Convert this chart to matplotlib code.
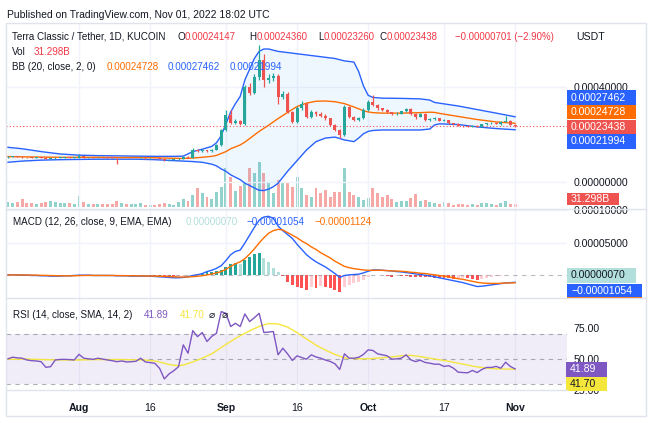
import numpy as np
import pandas as pd
import matplotlib
matplotlib.use("Agg")
import matplotlib.pyplot as plt
import matplotlib.dates as mdates
from matplotlib.patches import Rectangle
from matplotlib.ticker import FuncFormatter

plt.rcParams['font.family'] = ['Liberation Sans', 'DejaVu Sans']

# daily candles Jul 17 .. Nov 1 2022, prices in units of 1e-5 USDT
dates = pd.date_range('2022-07-17', '2022-11-01', freq='D')

opens = [10.5, 10.6, 10.8, 10.6, 10.5, 10.4, 10.3, 10.4, 10.3, 9.8,
         9.9, 10.3, 10.3, 10.4, 10.3, 10.3, 10.8, 10.5, 10.5, 10.4,
         10.5, 10.4, 10.3, 10.2, 10.1, 10.2, 10.1, 10.1, 10.1, 10.3,
         10.0, 10.0, 9.9, 9.7, 9.1, 9.3, 9.5, 9.7, 10.6, 10.3,
         13.6, 12.9, 13.4, 12.9, 13.5, 15.6, 21.9, 28.2, 25.0, 25.6,
         24.6, 40.1, 37.5, 44.3, 51.4, 43.0, 43.8, 44.5, 36.0, 37.0,
         29.6, 25.4, 31.2, 33.0, 27.5, 29.5, 28.5, 28.0, 26.8, 24.0,
         21.9, 19.8, 31.7, 27.5, 26.1, 26.8, 30.3, 33.8, 32.4, 31.0,
         30.3, 29.3, 28.6, 28.8, 29.7, 30.7, 28.6, 27.5, 28.6, 26.1,
         26.5, 26.8, 25.8, 26.1, 24.7, 24.6, 23.6, 23.5, 23.2, 23.6,
         23.2, 24.3, 24.8, 25.0, 24.5, 25.4, 25.8, 24.147]
highs = [10.8, 11.0, 10.9, 10.8, 10.6, 10.5, 10.6, 10.5, 10.4, 10.1,
         10.4, 10.5, 10.6, 10.5, 10.4, 11.8, 10.9, 10.7, 10.6, 10.6,
         10.6, 10.5, 10.4, 10.3, 10.3, 10.3, 10.2, 10.3, 10.5, 10.4,
         10.2, 10.1, 10.0, 9.8, 9.5, 9.7, 9.9, 10.9, 10.8, 14.5,
         14.0, 13.8, 13.6, 13.8, 16.0, 22.5, 30.3, 30.3, 26.5, 26.0,
         41.0, 41.5, 45.5, 57.7, 54.0, 45.5, 46.0, 45.5, 38.5, 38.0,
         30.0, 32.0, 34.0, 33.5, 30.5, 30.0, 29.5, 28.5, 27.0, 24.5,
         22.5, 32.5, 32.0, 28.0, 27.5, 31.0, 34.5, 36.6, 32.8, 31.3,
         30.6, 29.6, 29.3, 30.0, 31.0, 31.2, 28.9, 29.2, 28.9, 27.0,
         27.2, 27.0, 26.4, 26.3, 25.0, 25.0, 24.0, 23.8, 23.9, 23.8,
         24.5, 25.0, 25.3, 25.2, 25.6, 27.8, 25.9, 24.36]
lows = [10.3, 10.5, 10.4, 10.3, 10.2, 10.1, 10.2, 10.1, 9.6, 9.6,
        9.8, 10.1, 10.2, 10.1, 10.1, 10.2, 10.3, 10.3, 10.2, 10.3,
        10.2, 10.1, 10.0, 7.6, 9.9, 9.9, 9.9, 9.9, 10.0, 9.8,
        9.8, 9.7, 9.5, 8.9, 9.0, 9.2, 9.4, 9.6, 10.1, 10.2,
        12.6, 12.6, 12.6, 12.7, 13.3, 15.3, 21.5, 24.5, 24.5, 24.0,
        24.2, 36.5, 37.0, 43.0, 40.0, 41.5, 42.5, 33.0, 35.0, 29.0,
        24.7, 25.0, 30.5, 27.0, 27.0, 28.0, 27.5, 26.3, 23.5, 21.5,
        18.4, 19.5, 27.0, 25.8, 25.8, 26.5, 30.0, 32.0, 30.5, 29.8,
        29.0, 28.3, 28.4, 28.5, 29.4, 28.3, 26.5, 27.2, 25.8, 25.8,
        26.2, 25.5, 25.6, 24.4, 24.2, 23.4, 23.3, 23.0, 23.0, 23.0,
        23.1, 24.1, 24.6, 24.3, 24.2, 25.2, 24.0, 23.26]
closes = [10.6, 10.8, 10.6, 10.5, 10.4, 10.3, 10.4, 10.3, 9.8, 9.9,
          10.3, 10.3, 10.4, 10.3, 10.3, 10.8, 10.5, 10.5, 10.4, 10.5,
          10.4, 10.3, 10.2, 10.1, 10.2, 10.1, 10.1, 10.1, 10.3, 10.0,
          10.0, 9.9, 9.7, 9.1, 9.3, 9.5, 9.7, 10.6, 10.3, 13.6,
          12.9, 13.4, 12.9, 13.5, 15.6, 21.9, 28.2, 25.0, 25.6, 24.6,
          40.1, 37.5, 44.3, 51.4, 43.0, 43.8, 44.5, 36.0, 37.0, 29.6,
          25.4, 31.2, 33.0, 27.5, 29.5, 28.5, 28.0, 26.8, 24.0, 21.9,
          19.8, 31.7, 27.5, 26.1, 26.8, 30.3, 33.8, 32.4, 31.0, 30.3,
          29.3, 28.6, 28.8, 29.7, 30.7, 28.6, 27.5, 28.6, 26.1, 26.5,
          26.8, 25.8, 26.1, 24.7, 24.6, 23.6, 23.5, 23.2, 23.6, 23.2,
          24.3, 24.8, 25.0, 24.5, 25.4, 25.8, 24.147, 23.438]
volume_b = [55, 47, 57, 80, 47, 40, 33, 40, 57, 67,
            57, 40, 40, 40, 35, 113, 57, 33, 33, 30,
            30, 30, 30, 67, 47, 30, 30, 30, 47, 28,
            27, 27, 30, 45, 30, 28, 57, 80, 60, 123,
            190, 140, 107, 80, 157, 200, 390, 307, 160, 210,
            240, 397, 340, 457, 340, 240, 140, 273, 240, 257,
            207, 307, 190, 123, 107, 190, 140, 173, 107, 157,
            157, 390, 157, 123, 107, 73, 90, 190, 140, 107,
            120, 83, 50, 67, 60, 90, 133, 67, 73, 50,
            40, 33, 50, 40, 27, 33, 33, 27, 33, 27,
            40, 40, 33, 27, 40, 67, 33, 31.298]

# Bollinger bands (20, 2) read at these days after Jul 16
bb_day = [1, 4, 8, 12, 16, 20, 24, 28, 32, 36,
          38, 40, 42, 44, 45, 46, 47, 48, 49, 50,
          51, 52, 53, 54, 55, 56, 57, 58, 60, 62,
          64, 66, 68, 70, 72, 74, 75, 76, 77, 78,
          80, 84, 88, 90, 91, 92, 96, 100, 104, 108]
bb_upper = [14.6, 14.0, 12.8, 11.8, 11.3, 11.1, 11.0, 10.9, 10.8, 10.8,
            10.9, 12.8, 13.8, 15.0, 16.5, 19.5, 24.5, 29.5, 33.0, 36.0,
            43.0, 47.5, 52.0, 55.0, 56.0, 56.0, 55.5, 55.0, 54.5, 54.0,
            53.5, 53.0, 52.5, 52.0, 51.0, 50.5, 46.5, 40.5, 36.5, 35.6,
            35.3, 35.2, 35.0, 34.5, 33.5, 33.2, 32.0, 30.5, 29.0, 27.462]
bb_mid = [10.7, 10.6, 10.5, 10.4, 10.4, 10.4, 10.3, 10.3, 10.2, 10.0,
          9.9, 10.1, 10.4, 10.8, 11.2, 12.0, 12.8, 14.0, 14.8, 15.6,
          16.8, 18.3, 19.8, 21.3, 22.6, 23.9, 25.3, 26.7, 29.3, 31.8,
          33.2, 34.0, 34.1, 33.8, 33.0, 31.6, 30.8, 30.0, 29.5, 29.2,
          29.0, 29.0, 29.2, 29.4, 29.3, 28.9, 27.6, 26.3, 25.3, 24.728]
bb_lower = [8.3, 8.8, 9.2, 9.4, 9.5, 9.6, 9.6, 9.6, 9.4, 9.0,
            8.8, 8.6, 8.3, 7.5, 6.8, 5.5, 4.5, 3.0, 2.0, 1.0,
            -0.5, -1.5, -2.5, -3.5, -3.6, -3.0, -2.0, -0.5, 4.5, 9.0,
            13.5, 17.0, 18.5, 18.9, 17.7, 17.0, 18.5, 20.3, 21.3, 21.7,
            21.9, 21.9, 21.9, 22.3, 24.0, 24.5, 24.2, 23.2, 22.5, 21.994]

# MACD (12, 26, 9), units of 1e-5
macd = [0.1, 0.1, 0.1, 0.05, 0.05, 0.0, 0.0, -0.05, -0.05, -0.1,
        -0.1, -0.1, -0.05, -0.05, 0.0, 0.05, 0.05, 0.05, 0.0, 0.0,
        0.0, 0.0, 0.0, -0.05, -0.05, -0.05, -0.1, -0.1, -0.1, -0.1,
        -0.1, -0.15, -0.2, -0.25, -0.3, -0.35, -0.35, -0.3, -0.2, 0.0,
        0.1, 0.3, 0.6, 0.8, 1.1, 1.5, 2.3, 3.2, 3.7, 3.9,
        5.0, 6.2, 7.4, 8.5, 9.0, 9.1, 8.8, 7.6, 6.9, 6.3,
        5.7, 4.8, 4.0, 3.2, 2.6, 2.1, 1.7, 1.3, 0.8, 0.3,
        -0.3, 0.0, 0.1, 0.15, 0.2, 0.4, 0.65, 0.85, 0.85, 0.8,
        0.75, 0.7, 0.6, 0.55, 0.45, 0.35, 0.25, 0.15, 0.05, -0.05,
        -0.2, -0.35, -0.5, -0.65, -0.8, -0.95, -1.1, -1.3, -1.5, -1.7,
        -1.65, -1.55, -1.45, -1.35, -1.25, -1.15, -1.1, -1.054]
signal = [0.08, 0.09, 0.09, 0.08, 0.07, 0.06, 0.05, 0.03, 0.01, -0.01,
          -0.03, -0.05, -0.05, -0.05, -0.04, -0.02, 0.0, 0.01, 0.01, 0.01,
          0.01, 0.01, 0.0, -0.01, -0.02, -0.03, -0.04, -0.05, -0.06, -0.07,
          -0.08, -0.09, -0.11, -0.14, -0.17, -0.2, -0.23, -0.24, -0.23, -0.18,
          -0.12, -0.04, 0.08, 0.22, 0.4, 0.6, 0.95, 1.4, 1.8, 2.1,
          2.6, 3.3, 4.1, 5.0, 5.8, 6.5, 6.9, 7.1, 7.0, 6.6,
          6.2, 5.8, 5.3, 4.9, 4.4, 4.0, 3.5, 3.1, 2.7, 2.2,
          1.8, 1.4, 1.2, 1.05, 0.95, 0.85, 0.8, 0.8, 0.8, 0.8,
          0.75, 0.7, 0.68, 0.65, 0.6, 0.5, 0.45, 0.35, 0.3, 0.2,
          0.1, 0.0, -0.1, -0.2, -0.35, -0.5, -0.6, -0.75, -0.9, -1.05,
          -1.15, -1.2, -1.22, -1.22, -1.2, -1.16, -1.14, -1.124]
hist = [0.02, 0.01, 0.01, -0.03, -0.02, -0.06, -0.05, -0.08, -0.06, -0.09,
        -0.07, -0.05, 0.0, 0.0, 0.04, 0.07, 0.05, 0.04, -0.01, -0.01,
        -0.01, -0.01, 0.0, -0.04, -0.03, -0.02, -0.06, -0.05, -0.04, -0.03,
        -0.02, -0.06, -0.09, -0.11, -0.13, -0.15, -0.12, -0.06, 0.03, 0.15,
        0.2, 0.3, 0.5, 0.55, 0.7, 0.9, 1.35, 1.8, 1.9, 1.8,
        2.4, 2.9, 3.3, 3.5, 2.7, 2.1, 1.15, 0.5, -0.1, -0.95,
        -1.5, -1.8, -2.0, -2.2, -1.8, -2.0, -1.6, -1.8, -1.95, -2.2,
        -2.5, -1.8, -1.5, -1.2, -1.0, -0.75, -0.3, 0.05, 0.05, 0.0,
        -0.1, -0.2, -0.15, -0.15, -0.15, -0.2, -0.25, -0.25, -0.3, -0.3,
        -0.35, -0.35, -0.4, -0.45, -0.5, -0.4, -0.35, -0.45, -0.5, -0.7,
        -0.55, -0.4, -0.3, -0.1, -0.05, 0.05, 0.03, 0.07]

# RSI (14) and its 14-day SMA
rsi = [50.0, 51.3, 50.8, 50.5, 49.1, 48.5, 48.3, 47.7, 43.2, 43.7,
       49.1, 49.5, 49.6, 49.4, 49.1, 53.6, 50.5, 50.0, 49.6, 50.5,
       49.8, 49.1, 48.5, 47.7, 48.3, 47.5, 47.7, 48.0, 50.5, 47.5,
       47.0, 46.4, 42.4, 33.9, 37.9, 40.5, 43.7, 61.2, 54.5, 72.6,
       67.8, 71.1, 63.9, 68.0, 70.5, 87.9, 86.5, 75.9, 78.5, 75.9,
       86.0, 79.9, 83.0, 86.5, 71.1, 71.5, 71.9, 53.2, 58.5, 54.0,
       48.7, 52.4, 51.0, 49.7, 53.2, 51.5, 50.5, 49.0, 47.9, 46.0,
       41.5, 54.0, 50.5, 50.5, 51.2, 53.5, 57.2, 56.7, 54.0, 53.2,
       52.4, 49.7, 50.0, 50.5, 53.2, 49.2, 47.8, 48.9, 47.1, 46.5,
       45.7, 45.7, 43.9, 44.5, 42.5, 39.3, 39.0, 38.8, 40.7, 39.0,
       41.5, 43.1, 43.1, 43.9, 42.5, 47.3, 43.9, 41.89]
rsi_ma_day = [1, 5, 10, 15, 20, 25, 30, 32, 34, 35, 36, 37, 38, 40, 42, 44,
              46, 48, 50, 52, 54, 56, 58, 60, 62, 64, 66, 68, 70, 72, 74, 76,
              78, 80, 82, 84, 86, 88, 90, 92, 94, 96, 98, 100, 102, 104, 106, 108]
rsi_ma = [49.6, 49.8, 49.2, 49.0, 49.4, 49.4, 49.0, 48.3, 46.5, 45.5, 44.8, 44.5,
          45.0, 47.5, 50.5, 54.0, 59.0, 64.0, 68.5, 72.5, 76.0, 78.3, 78.0, 75.5,
          71.0, 66.0, 61.0, 57.0, 53.5, 50.8, 50.2, 50.0, 50.3, 50.8, 51.5, 52.5,
          52.8, 51.8, 50.5, 49.3, 48.0, 46.5, 45.0, 43.5, 42.6, 42.0, 41.8, 41.70]

tick_dates = ['2022-08-01', '2022-08-16', '2022-09-01', '2022-09-16',
              '2022-10-01', '2022-10-17', '2022-11-01']
tick_labels = ['Aug', '16', 'Sep', '16', 'Oct', '17', 'Nov']

UP, DOWN = '#26a69a', '#ef5350'
BLUE, ORANGE, PURPLE, YELLOW = '#2962ff', '#ff6d00', '#7e57c2', '#f5e63c'
TXT, GRID, LINE = '#131722', '#f0f3fa', '#e0e3eb'

W, H = 660, 423
fig = plt.figure(figsize=(W / 100, H / 100), dpi=100)


def rect(x0, y0, x1, y1):
    return [x0 / W, 1 - y1 / H, (x1 - x0) / W, (y1 - y0) / H]


L, R = 6, 567
ax_v = fig.add_axes(rect(L, 23, R, 209.5))
ax_p = fig.add_axes(rect(L, 23, R, 209.5), sharex=ax_v)
ax_m = fig.add_axes(rect(L, 209.5, R, 298.5), sharex=ax_v)
ax_r = fig.add_axes(rect(L, 298.5, R, 390), sharex=ax_v)
ax_p.patch.set_visible(False)

x = mdates.date2num(dates)
start = mdates.date2num(pd.Timestamp('2022-07-16'))
ax_v.set_xlim(start + 0.6, start + 118.95)
xt = mdates.date2num(pd.to_datetime(tick_dates))

for ax in (ax_v, ax_p, ax_m, ax_r):
    for s in ax.spines.values():
        s.set_visible(False)
    ax.set_axisbelow(True)

o = np.array(opens) * 1e-5
h = np.array(highs) * 1e-5
lo = np.array(lows) * 1e-5
c = np.array(closes) * 1e-5
up = c >= o
colors = np.where(up, UP, DOWN)

# volume behind the price
ax_v.bar(x, volume_b, width=0.62, color=np.where(up, UP, DOWN), alpha=0.5, linewidth=0)
ax_v.set_ylim(-20, 1845)
ax_v.set_yticks([])
ax_v.tick_params(axis='x', length=0, labelbottom=False)

# bollinger bands
bx = start + np.array(bb_day)
bu = np.array(bb_upper) * 1e-5
bm = np.array(bb_mid) * 1e-5
bl = np.array(bb_lower) * 1e-5
ax_p.fill_between(bx, bl, bu, color='#2196f3', alpha=0.07, linewidth=0, zorder=1)
ax_p.plot(bx, bu, color=BLUE, lw=1, zorder=2)
ax_p.plot(bx, bl, color=BLUE, lw=1, zorder=2)
ax_p.plot(bx, bm, color=ORANGE, lw=1, zorder=2)

# candles
ax_p.vlines(x, lo, h, colors=colors, lw=0.9, zorder=3)
ax_p.bar(x, np.maximum(np.abs(c - o), 0.12e-5), bottom=np.minimum(o, c),
         width=0.62, color=colors, linewidth=0, zorder=4)
ax_p.axhline(c[-1], color=DOWN, lw=0.8, ls=(0, (1, 2)), zorder=2)
ax_p.set_ylim(-11.58e-5, 66.95e-5)
ax_p.set_yticks([0, 4e-4])

# MACD
hist_colors = []
prev = 0.0
for val in hist:
    if val >= 0:
        hist_colors.append(UP if val >= prev else '#b2dfdb')
    else:
        hist_colors.append('#ff5252' if val <= prev else '#ffcdd2')
    prev = val
ax_m.bar(x, np.array(hist) * 1e-5, width=0.62, color=hist_colors, linewidth=0)
ax_m.axhline(0, color='#787b86', lw=0.8, ls=(0, (4, 4)), alpha=0.5)
ax_m.plot(x, np.array(macd) * 1e-5, color=BLUE, lw=1)
ax_m.plot(x, np.array(signal) * 1e-5, color=ORANGE, lw=1)
ax_m.set_ylim(-3.54e-5, 10.15e-5)
ax_m.set_yticks([5e-5, 1e-4])

# RSI
ax_r.axhspan(30, 70, color=PURPLE, alpha=0.1, linewidth=0)
for lvl in (70, 50, 30):
    ax_r.axhline(lvl, color='#787b86', lw=0.8, ls=(0, (4, 4)), alpha=0.6)
ax_r.plot(start + np.array(rsi_ma_day), rsi_ma, color=YELLOW, lw=1)
ax_r.plot(x, rsi, color=PURPLE, lw=1)
ax_r.set_ylim(25.2, 98.4)
ax_r.set_yticks([25, 50, 75])

fmt8 = FuncFormatter(lambda v, p: f'{v:.8f}')
ax_p.yaxis.set_major_formatter(fmt8)
ax_m.yaxis.set_major_formatter(fmt8)
ax_r.yaxis.set_major_formatter(FuncFormatter(lambda v, p: f'{v:.2f}'))
for ax in (ax_p, ax_m, ax_r):
    ax.yaxis.tick_right()
    ax.tick_params(axis='y', length=0, pad=4.5, labelsize=7.6, colors=TXT)

ax_r.set_xticks(xt)
labs = ax_r.set_xticklabels(tick_labels)
for lab, t in zip(labs, tick_labels):
    if t.isalpha():
        lab.set_fontweight('bold')
ax_r.tick_params(axis='x', length=0, pad=9, labelsize=7.6, colors=TXT)
for ax in (ax_p, ax_m):
    ax.tick_params(axis='x', length=0, labelbottom=False)
for ax in (ax_p, ax_m, ax_r):
    ax.grid(True, axis='x', color=GRID, lw=1)
ax_p.grid(True, axis='y', color=GRID, lw=1)
ax_m.grid(True, axis='y', color=GRID, lw=1)

# overlay in pixel coordinates for legends, frame and value tags
ov = fig.add_axes([0, 0, 1, 1], zorder=10)
ov.set_xlim(0, W)
ov.set_ylim(H, 0)
ov.axis('off')
ov.patch.set_visible(False)

ov.add_patch(Rectangle((6, 23), 640, 393, fill=False, edgecolor=LINE, lw=1))
ov.plot([6, 646], [209.5, 209.5], color=LINE, lw=1)
ov.plot([6, 646], [298.5, 298.5], color=LINE, lw=1)
ov.plot([6, 567], [390, 390], color=LINE, lw=1)


def t(xp, yp, s, color=TXT, size=7.1, **kw):
    ov.text(xp, yp, s, color=color, fontsize=size, va='center', ha='left', **kw)


def tag(x0, x1, yc, hgt, s, bg, fg):
    ov.add_patch(Rectangle((x0, yc - hgt / 2), x1 - x0, hgt, facecolor=bg, edgecolor='none'))
    t(x0 + 4, yc, s, color=fg, size=7.6)


RED = '#f23645'
t(7, 14.5, 'Published on TradingView.com, Nov 01, 2022 18:02 UTC', size=7.5)
t(12, 36.5, 'Terra Classic / Tether, 1D, KUCOIN')
t(177, 36.5, 'O')
t(185, 36.5, '0.00024147', RED, 6.9)
t(249, 36.5, 'H')
t(256.5, 36.5, '0.00024360', RED, 6.9)
t(318, 36.5, 'L')
t(324, 36.5, '0.00023260', RED, 6.9)
t(379, 36.5, 'C')
t(387, 36.5, '0.00023438', RED, 6.9)
t(455, 36.5, '\u22120.00000701 (\u22122.90%)', RED, 6.9)
t(576, 36.5, 'USDT', size=7.6)
t(12, 52, 'Vol')
t(34, 52, '31.298B', RED)
t(12, 67, 'BB (20, close, 2, 0)')
t(107, 67, '0.00024728', ORANGE)
t(168, 67, '0.00027462', BLUE)
t(230, 67, '0.00021994', BLUE)
t(13, 222, 'MACD (12, 26, close, 9, EMA, EMA)')
t(186, 222, '0.00000070', '#b2dfdb')
t(247, 222, '\u22120.00001054', BLUE)
t(315, 222, '\u22120.00001124', ORANGE)
t(13, 315, 'RSI (14, close, SMA, 14, 2)')
t(144, 315, '41.89', PURPLE)
t(180, 315, '41.70', YELLOW)
t(209, 315, '\u2300', size=7.5, family='DejaVu Sans')
t(222, 315, '\u2300', size=7.5, family='DejaVu Sans')

tag(567, 636, 97.7, 14.4, '0.00027462', BLUE, 'white')
tag(567, 636, 112.3, 14.4, '0.00024728', ORANGE, 'white')
tag(567, 636, 127.0, 14.4, '0.00023438', DOWN, 'white')
tag(567, 636, 141.5, 14.4, '0.00021994', BLUE, 'white')
tag(567, 619, 199.3, 12.3, '31.298B', DOWN, 'white')
ov.add_patch(Rectangle((567, 297.5), 75, 2, facecolor=ORANGE, edgecolor='none'))
tag(567, 636, 275.5, 14.4, '0.00000070', '#b2dfdb', TXT)
tag(567, 642, 290.7, 13.6, '\u22120.00001054', BLUE, 'white')
tag(566, 607, 369.3, 14.6, '41.89', PURPLE, 'white')
tag(566, 607, 383.6, 14.0, '41.70', YELLOW, TXT)

fig.savefig('out.png', dpi=100)
